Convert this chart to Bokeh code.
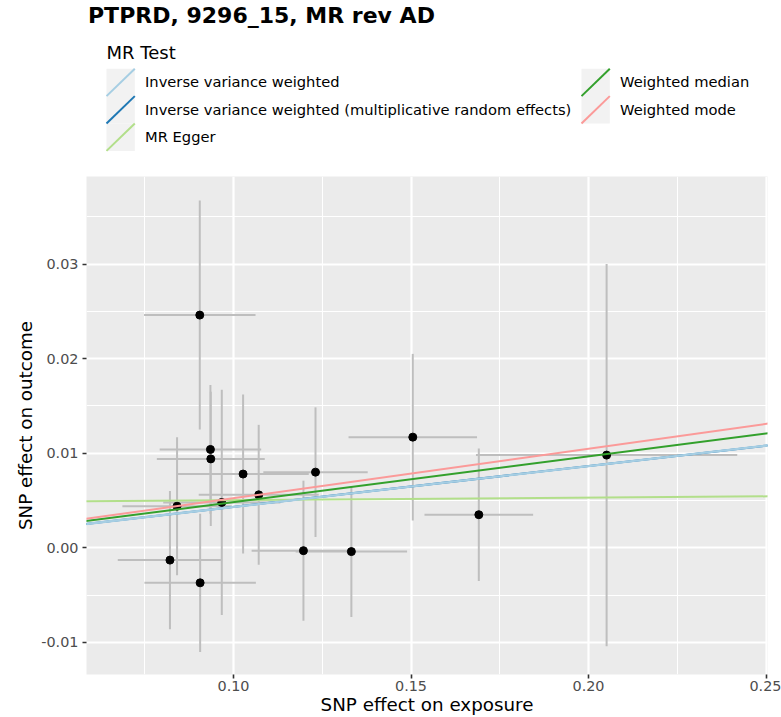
from bokeh.plotting import figure
from bokeh.models import Range1d, FixedTicker, NumeralTickFormatter, Slope
from bokeh.layouts import column
from bokeh.core.properties import value
from bokeh.embed import file_html
from bokeh.resources import INLINE

# ---------------- data ----------------
title_text = "PTPRD, 9296_15, MR rev AD"
legend_title = "MR Test"
x_title = "SNP effect on exposure"
y_title = "SNP effect on outcome"

methods = [
    "Inverse variance weighted",
    "Inverse variance weighted (multiplicative random effects)",
    "MR Egger",
    "Weighted median",
    "Weighted mode",
]
method_colors = ["#A6CEE3", "#1F78B4", "#B2DF8A", "#33A02C", "#FB9A99"]
method_slopes = [0.0432, 0.0432, 0.00276, 0.0483, 0.0524]
method_intercepts = [0.0, 0.0, 0.00475, 0.0, 0.0]

beta_exposure = [0.0905, 0.0935, 0.0936, 0.1027, 0.1231, 0.1505, 0.1071, 0.0967,
                 0.0841, 0.0821, 0.0906, 0.1197, 0.1332, 0.1691, 0.2051]
beta_outcome = [0.0246, 0.0104, 0.0094, 0.0078, 0.0080, 0.0117, 0.0056, 0.0048,
                0.0044, -0.0013, -0.0037, -0.0003, -0.0004, 0.0035, 0.0098]
se_exposure = [0.0157, 0.0143, 0.0152, 0.0185, 0.0147, 0.0181, 0.0169, 0.0165,
               0.0154, 0.0147, 0.0157, 0.0146, 0.0157, 0.0153, 0.0368]
se_outcome = [0.0121, 0.0068, 0.0071, 0.0084, 0.00685, 0.0088, 0.0074, 0.0119,
              0.0073, 0.0073, 0.0073, 0.0074, 0.0069, 0.0070, 0.0202]

x_ticks = [0.10, 0.15, 0.20, 0.25]
x_minor = [0.075, 0.125, 0.175, 0.225]
y_ticks = [-0.01, 0.00, 0.01, 0.02, 0.03]
y_minor = [-0.005, 0.005, 0.015, 0.025, 0.035]

FONT = value("DejaVu Sans")
W = 781
TOP_H = 176
BOT_H = 717 - TOP_H
LEFT_B = 86
RIGHT_B = 14

# ---------------- header: title + legend ----------------
# frame spans page pixels LEFT_B .. W-RIGHT_B, same as the panel below
head = figure(width=W, height=TOP_H,
              x_range=Range1d(LEFT_B, W - RIGHT_B), y_range=Range1d(TOP_H, 0),
              output_backend="svg", toolbar_location=None, tools="",
              x_axis_location=None, y_axis_location=None,
              min_border_left=LEFT_B, min_border_right=RIGHT_B,
              min_border_top=0, min_border_bottom=0)
head.outline_line_color = None
head.background_fill_color = "white"
head.border_fill_color = "white"
head.grid.visible = False

head.text(x=[87.5], y=[15], text=[title_text], text_font=FONT,
          text_font_size=value("22px"), text_font_style="bold",
          text_baseline="middle", text_align="left", text_color="black")
head.text(x=[106], y=[52], text=[legend_title], text_font=FONT,
          text_font_size=value("18px"), text_baseline="middle",
          text_align="left", text_color="black")

col_key_left = [106, 581]
col_text_left = [144.5, 619.5]
key_w = 28.3
key_h = 27.4
key_top0 = 68.2
kl, kr, kt, kb, tx, ty = [], [], [], [], [], []
for i, m in enumerate(methods):
    c = 0 if i < 3 else 1
    r = i if i < 3 else i - 3
    top = key_top0 + r * key_h
    kl.append(col_key_left[c]); kr.append(col_key_left[c] + key_w)
    kt.append(top); kb.append(top + key_h)
    tx.append(col_text_left[c]); ty.append(top + key_h / 2 - 0.8)

head.quad(left=kl, right=kr, top=kt, bottom=kb, fill_color="#F2F2F2", line_color=None)
head.segment(x0=kl, y0=kb, x1=kr, y1=kt, line_color=method_colors, line_width=2)
head.text(x=tx, y=ty, text=methods, text_font=FONT, text_font_size=value("14.7px"),
          text_baseline="middle", text_align="left", text_color="black")

# ---------------- main panel ----------------
p = figure(width=W, height=BOT_H,
           x_range=Range1d(0.05859, 0.25042), y_range=Range1d(-0.01339, 0.03925),
           output_backend="svg", toolbar_location=None, tools="",
           min_border_left=LEFT_B, min_border_right=RIGHT_B,
           min_border_top=0, min_border_bottom=43)
p.background_fill_color = "#EBEBEB"
p.border_fill_color = "white"
p.outline_line_color = None

p.xaxis.ticker = FixedTicker(ticks=x_ticks, minor_ticks=x_minor)
p.yaxis.ticker = FixedTicker(ticks=y_ticks, minor_ticks=y_minor)
p.xaxis.formatter = NumeralTickFormatter(format="0.00")
p.yaxis.formatter = NumeralTickFormatter(format="0.00")

for g in (p.xgrid, p.ygrid):
    g.grid_line_color = "white"
    g.grid_line_width = 2.2
    g.minor_grid_line_color = "white"
    g.minor_grid_line_width = 1.1

for ax in (p.xaxis, p.yaxis):
    ax.axis_line_color = None
    ax.major_tick_line_color = "#333333"
    ax.major_tick_line_width = 1.6
    ax.major_tick_out = 4
    ax.major_tick_in = 0
    ax.minor_tick_line_color = None
    ax.major_label_text_font = "DejaVu Sans"
    ax.major_label_text_font_size = "14.4px"
    ax.major_label_text_color = "#4D4D4D"
    ax.axis_label_text_font = "DejaVu Sans"
    ax.axis_label_text_font_size = "18.3px"
    ax.axis_label_text_font_style = "normal"
    ax.axis_label_text_color = "black"

p.xaxis.axis_label = x_title
p.yaxis.axis_label = y_title
p.xaxis.major_label_standoff = 2
p.xaxis.axis_label_standoff = 0
p.yaxis.major_label_standoff = 4
p.yaxis.axis_label_standoff = 2

lo_y = [b - s for b, s in zip(beta_outcome, se_outcome)]
hi_y = [b + s for b, s in zip(beta_outcome, se_outcome)]
lo_x = [b - s for b, s in zip(beta_exposure, se_exposure)]
hi_x = [b + s for b, s in zip(beta_exposure, se_exposure)]

p.segment(x0=beta_exposure, y0=lo_y, x1=beta_exposure, y1=hi_y,
          line_color="#BEBEBE", line_width=2)
p.segment(x0=lo_x, y0=beta_outcome, x1=hi_x, y1=beta_outcome,
          line_color="#BEBEBE", line_width=2)
p.scatter(x=beta_exposure, y=beta_outcome, size=8, fill_color="black", line_color="black")

line_widths = [2.4, 2, 2, 2, 2]
for k in [1, 2, 0, 3, 4]:
    p.add_layout(Slope(gradient=method_slopes[k], y_intercept=method_intercepts[k],
                       line_color=method_colors[k], line_width=line_widths[k]))

layout = column(head, p, spacing=0)
open("out.html", "w").write(file_html(layout, INLINE))
